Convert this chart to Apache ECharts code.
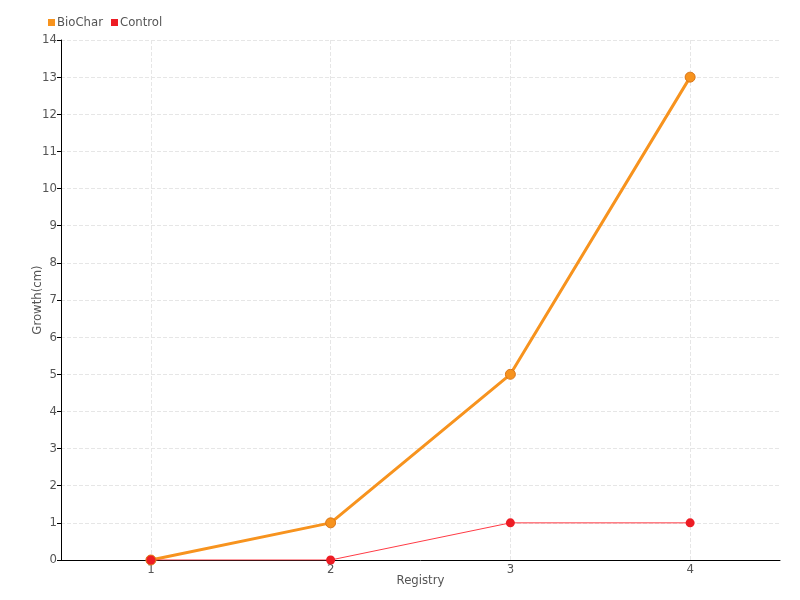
<!DOCTYPE html>
<html>
<head>
<meta charset="utf-8">
<script src="https://cdn.jsdelivr.net/npm/echarts@6/dist/echarts.min.js"></script>
<style>
    html, body { margin: 0; padding: 0; background: #fff; }
    #chart { width: 800px; height: 600px; }
</style>
</head>
<body>
<div id="chart"></div>
<script>
// chart data
const registry = ['1', '2', '3', '4']
const biochar = [0, 1, 5, 13]
const control = [0, 0, 1, 1]

const chart = echarts.init(document.getElementById('chart'))

const font = '"DejaVu Sans Condensed", "Liberation Sans Narrow", sans-serif'

const option = {
    animation: false,
    textStyle: { fontFamily: font },
    legend: {
        left: 43,
        top: 11,
        itemWidth: 7,
        itemHeight: 7,
        itemGap: 8,
        icon: 'rect',
        itemStyle: { borderWidth: 0 },
        textStyle: { color: '#555', fontSize: 13, fontFamily: font, padding: [0, 0, 0, -3] },
        data: ['BioChar', 'Control']
    },
    grid: { left: 61, right: 20, top: 40, bottom: 40 },
    xAxis: {
        type: 'category',
        data: registry,
        name: 'Registry',
        nameLocation: 'middle',
        nameGap: 14,
        nameMoveOverlap: false,
        nameTextStyle: { color: '#555', fontSize: 13 },
        axisLine: { lineStyle: { color: '#000' } },
        axisTick: { alignWithLabel: true, lineStyle: { color: '#000' } },
        axisLabel: { color: '#555', fontSize: 13, margin: 3 },
        splitLine: { show: true, alignWithLabel: true, lineStyle: { color: '#e6e6e6', type: 'dashed' } }
    },
    yAxis: {
        type: 'value',
        min: 0,
        max: 14,
        interval: 1,
        name: 'Growth(cm)',
        nameLocation: 'middle',
        nameGap: 17,
        nameMoveOverlap: false,
        nameTextStyle: { color: '#555', fontSize: 13 },
        axisLine: { show: true, lineStyle: { color: '#000' } },
        axisTick: { show: true, length: 4, lineStyle: { color: '#000' } },
        axisLabel: { color: '#555', fontSize: 13, margin: 4 },
        splitLine: { lineStyle: { color: '#e6e6e6', type: 'dashed' } }
    },
    series: [
        {
            name: 'BioChar',
            type: 'line',
            data: biochar,
            symbol: 'circle',
            symbolSize: 10,
            itemStyle: { color: '#f7931e', borderColor: '#d9761a', borderWidth: 1 },
            lineStyle: { width: 3, color: '#f7931e' }
        },
        {
            name: 'Control',
            type: 'line',
            data: control,
            symbol: 'circle',
            symbolSize: 9,
            itemStyle: { color: '#ed1c24' },
            lineStyle: { width: 1, color: '#ff3b45' }
        }
    ]
}

chart.setOption(option)
</script>
</body>
</html>
